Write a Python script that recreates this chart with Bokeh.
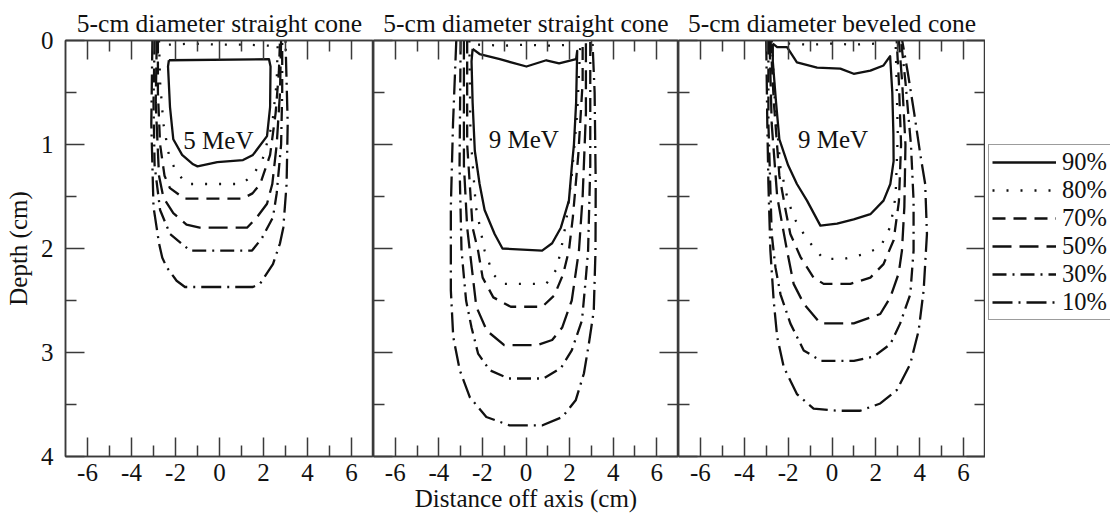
from bokeh.plotting import figure
from bokeh.models import (Range1d, FixedTicker, LinearAxis, Legend, LegendItem, Label,
                          CustomLabelingPolicy)
from bokeh.layouts import row
from bokeh.embed import file_html
from bokeh.resources import INLINE

FONT = "Liberation Serif"
INK = "#111111"
AXC = "#3a3a3a"

# ---------------- text / ticks ----------------
panel_titles = ["5-cm diameter straight cone", "5-cm diameter straight cone", "5-cm diameter beveled cone"]
beam_labels = ["5 MeV", "9 MeV", "9 MeV"]
beam_label_x = [-0.05, -0.1, 0.05]
beam_label_y = [0.96, 0.95, 0.95]
levels = ["90%", "80%", "70%", "50%", "30%", "10%"]
dashes = ["solid", "2 12", "13 8", "19 8", "14 6 2 6", "20 6 2 6"]
x_ticks = [-6, -4, -2, 0, 2, 4, 6]
x_tick_labels = ["-6", "-4", "-2", "0", "2", "4", "6"]
x_minor = [-5, -3, -1, 1, 3, 5]
y_ticks = [0, 1, 2, 3, 4]
y_tick_labels = ["0", "1", "2", "3", "4"]
y_minor = [0.5, 1.5, 2.5, 3.5]

# ---------------- panel A: 5 MeV, straight cone ----------------
A90_x = [-2.3, 2.25, 2.32, 2.3, 2.16, 1.52, 1.07, -0.1, -1.0, -1.2, -1.7, -2.1, -2.25, -2.34, -2.3]
A90_y = [0.19, 0.18, 0.25, 0.64, 0.92, 1.10, 1.15, 1.17, 1.21, 1.19, 1.10, 0.95, 0.64, 0.25, 0.19]
A80_x = [-2.75, -2.7, -2.55, -2.3, -2.0, -1.5, 1.0, 1.5, 1.95, 2.4, 2.6, 2.65]
A80_y = [0.0, 0.4, 0.8, 1.1, 1.25, 1.38, 1.38, 1.30, 1.15, 0.8, 0.4, 0.0]
A80s_x = [-2.3, -1.2, 0.0, 1.2, 2.3]
A80s_y = [0.04, 0.03, 0.04, 0.04, 0.05]
A70_x = [-2.8, -2.8, -2.7, -2.5, -2.25, -1.6, 1.05, 1.5, 1.85, 2.3, 2.55, 2.7, 2.75]
A70_y = [0.0, 0.5, 1.0, 1.3, 1.42, 1.52, 1.52, 1.47, 1.38, 1.1, 0.7, 0.3, 0.0]
A50_x = [-2.85, -2.9, -2.75, -2.55, -2.1, -1.5, -0.9, 1.25, 1.7, 2.16, 2.4, 2.6, 2.75, 2.8]
A50_y = [0.0, 0.6, 1.3, 1.51, 1.66, 1.77, 1.80, 1.80, 1.70, 1.57, 1.38, 1.0, 0.5, 0.0]
A30_x = [-2.95, -3.0, -2.95, -2.7, -2.25, -1.34, 1.48, 1.93, 2.43, 2.6, 2.8, 2.85, 2.85]
A30_y = [0.0, 0.6, 1.2, 1.63, 1.86, 2.02, 2.02, 1.90, 1.70, 1.47, 1.0, 0.5, 0.0]
A10_x = [-3.05, -3.1, -3.0, -2.75, -2.6, -2.4, -1.95, -1.57, 1.52, 1.84, 2.43, 2.75, 2.9, 3.05, 3.1, 3.0]
A10_y = [0.0, 0.8, 1.6, 1.95, 2.09, 2.18, 2.31, 2.37, 2.37, 2.34, 2.15, 1.95, 1.8, 1.38, 0.8, 0.0]

# ---------------- panel B: 9 MeV, straight cone ----------------
B90_x = [-2.45, -2.13, -1.2, 0.02, 0.93, 1.52, 2.3, 2.35, 2.3, 2.2, 2.1, 1.97, 1.6, 1.2, 0.74,
         -1.08, -1.44, -1.9, -2.13, -2.35, -2.45, -2.5, -2.45]
B90_y = [0.08, 0.13, 0.18, 0.25, 0.19, 0.22, 0.18, 0.10, 0.6, 1.0, 1.22, 1.54, 1.80, 1.95, 2.02,
         2.00, 1.86, 1.63, 1.38, 1.06, 0.6, 0.2, 0.08]
B80_x = [-2.6, -2.55, -2.3, -1.9, -1.5, -1.06, 0.93, 1.4, 1.6, 1.84, 2.1, 2.35, 2.5]
B80_y = [0.0, 0.9, 1.6, 2.02, 2.25, 2.34, 2.34, 2.2, 2.02, 1.75, 1.3, 0.7, 0.0]
B80s_x = [-2.2, -1.0, 0.0, 1.0, 2.2]
B80s_y = [0.04, 0.05, 0.04, 0.05, 0.04]
B70_x = [-2.7, -2.7, -2.45, -2.2, -1.99, -1.5, -0.7, 0.75, 1.3, 1.7, 1.97, 2.15, 2.4, 2.6, 2.6]
B70_y = [0.0, 1.0, 1.8, 2.02, 2.28, 2.47, 2.56, 2.56, 2.45, 2.25, 2.02, 1.7, 1.1, 0.4, 0.0]
B50_x = [-2.85, -2.85, -2.7, -2.58, -2.28, -1.8, -1.0, 0.5, 1.2, 1.66, 2.1, 2.43, 2.6, 2.75, 2.75]
B50_y = [0.0, 1.2, 1.8, 2.02, 2.56, 2.79, 2.93, 2.93, 2.88, 2.76, 2.5, 2.02, 1.5, 0.7, 0.0]
B30_x = [-3.0, -3.05, -2.96, -2.75, -2.5, -2.2, -1.67, -0.8, 0.8, 1.6, 2.1, 2.57, 2.74, 2.85, 2.95, 2.95]
B30_y = [0.0, 1.2, 2.02, 2.5, 2.76, 3.01, 3.17, 3.25, 3.25, 3.15, 2.98, 2.69, 2.3, 2.02, 1.2, 0.0]
B10_x = [-3.2, -3.35, -3.45, -3.45, -3.34, -3.04, -2.58, -1.82, -0.76, 0.76, 1.67, 2.28, 2.66, 2.89,
         3.11, 3.19, 3.2, 3.15, 3.05]
B10_y = [0.0, 0.8, 1.6, 2.4, 2.85, 3.17, 3.43, 3.62, 3.70, 3.70, 3.62, 3.46, 3.2, 2.91,
         2.6, 2.02, 1.38, 0.5, 0.0]

# ---------------- panel C: 9 MeV, beveled cone ----------------
C90_x = [-2.7, -2.5, -2.05, -1.6, -0.68, 0.38, 0.99, 1.75, 2.35, 2.65, 2.75, 2.8, 2.81, 2.66, 2.35,
         1.75, 0.99, 0.23, -0.53, -1.14, -1.6, -2.0, -2.4, -2.55, -2.7, -2.7]
C90_y = [0.03, 0.064, 0.064, 0.21, 0.26, 0.27, 0.32, 0.29, 0.24, 0.15, 0.5, 0.9, 1.16, 1.38, 1.54,
         1.67, 1.72, 1.76, 1.78, 1.54, 1.38, 1.2, 0.95, 0.6, 0.2, 0.03]
C80_x = [-2.75, -2.6, -2.35, -2.05, -1.75, -1.29, -0.84, -0.38, 0.53, 1.37, 2.2, 2.66, 2.9, 3.0, 2.9]
C80_y = [0.0, 0.6, 1.22, 1.5, 1.70, 1.86, 1.99, 2.10, 2.10, 2.06, 1.99, 1.79, 1.5, 0.9, 0.0]
C80s_x = [-2.0, -1.0, 0.0, 1.0, 2.0]
C80s_y = [0.03, 0.04, 0.03, 0.04, 0.03]
C70_x = [-2.8, -2.65, -2.4, -2.1, -1.9, -1.44, -0.84, -0.38, 0.84, 1.75, 2.35, 2.81, 3.05, 3.15, 3.05, 2.95]
C70_y = [0.0, 0.6, 1.3, 1.65, 1.86, 2.08, 2.28, 2.34, 2.34, 2.28, 2.15, 1.92, 1.55, 1.0, 0.4, 0.0]
C50_x = [-2.85, -2.75, -2.5, -2.2, -2.05, -1.75, -1.29, -0.53, 0.99, 2.2, 2.66, 3.04, 3.19, 3.3, 3.35, 3.2, 3.05]
C50_y = [0.0, 0.8, 1.5, 1.85, 2.02, 2.34, 2.53, 2.72, 2.72, 2.63, 2.47, 2.24, 2.02, 1.6, 1.0, 0.4, 0.0]
C30_x = [-2.9, -2.9, -2.8, -2.75, -2.58, -2.35, -1.9, -1.29, -0.5, 1.0, 1.9, 2.66, 3.11, 3.57, 3.72,
         3.72, 3.6, 3.35, 3.15]
C30_y = [0.0, 0.8, 1.5, 1.86, 2.18, 2.44, 2.72, 2.98, 3.08, 3.08, 3.04, 2.92, 2.72, 2.44, 2.02,
         1.54, 1.0, 0.4, 0.0]
C10_x = [-3.0, -2.95, -2.9, -2.81, -2.66, -2.5, -2.2, -1.6, -0.84, 0.23, 1.29, 2.2, 2.96, 3.57, 3.95,
         4.18, 4.33, 4.25, 4.03, 3.75, 3.45, 3.2]
C10_y = [0.0, 0.8, 1.38, 2.02, 2.5, 2.85, 3.14, 3.40, 3.54, 3.56, 3.56, 3.49, 3.36, 3.11, 2.79,
         2.40, 1.86, 1.38, 1.1, 0.7, 0.3, 0.0]

panel_contours = [
    [[(A90_x, A90_y)], [(A80_x, A80_y), (A80s_x, A80s_y)], [(A70_x, A70_y)],
     [(A50_x, A50_y)], [(A30_x, A30_y)], [(A10_x, A10_y)]],
    [[(B90_x, B90_y)], [(B80_x, B80_y), (B80s_x, B80s_y)], [(B70_x, B70_y)],
     [(B50_x, B50_y)], [(B30_x, B30_y)], [(B10_x, B10_y)]],
    [[(C90_x, C90_y)], [(C80_x, C80_y), (C80s_x, C80s_y)], [(C70_x, C70_y)],
     [(C50_x, C50_y)], [(C30_x, C30_y)], [(C10_x, C10_y)]],
]

LINE_W = 2.3


def style_axis(ax, ticks, minor, tick_labels, show_labels):
    ax.ticker = FixedTicker(ticks=ticks, minor_ticks=minor)
    ax.axis_line_color = AXC
    ax.axis_line_width = 1.5
    ax.major_tick_line_color = AXC
    ax.major_tick_line_width = 1.5
    ax.minor_tick_line_color = AXC
    ax.minor_tick_line_width = 1.5
    ax.major_tick_in = 19
    ax.major_tick_out = 0
    ax.minor_tick_in = 11
    ax.minor_tick_out = 0
    if show_labels:
        ax.major_label_overrides = {t: s for t, s in zip(ticks, tick_labels)}
        ax.major_label_text_font = FONT
        ax.major_label_text_font_size = "25px"
        ax.major_label_text_color = INK
    else:
        # tick marks only: no labels are drawn on this side
        ax.major_label_policy = CustomLabelingPolicy(code="return []")
        ax.major_label_text_font_size = "0px"
        ax.major_label_standoff = 0


def make_panel(i, width, left, right):
    p = figure(width=width, height=516, x_range=Range1d(-7, 7), y_range=Range1d(4, 0),
               output_backend="svg", toolbar_location=None,
               min_border_left=left, min_border_right=right,
               min_border_top=40, min_border_bottom=60,
               title=panel_titles[i])
    p.background_fill_color = "white"
    p.border_fill_color = "white"
    p.outline_line_color = AXC
    p.outline_line_width = 1.5
    p.xgrid.visible = False
    p.ygrid.visible = False
    p.title.text_font = FONT
    p.title.text_font_size = "25.5px"
    p.title.text_font_style = "normal"
    p.title.text_color = INK
    p.title.align = "center"
    p.title.standoff = 6

    # bottom axis
    xb = p.below[0]
    style_axis(xb, x_ticks, x_minor, x_tick_labels, True)
    xb.major_label_standoff = 7
    # top axis
    xt = LinearAxis()
    style_axis(xt, x_ticks, x_minor, x_tick_labels, False)
    p.add_layout(xt, "above")
    # left axis
    yl = p.left[0]
    if i == 0:
        style_axis(yl, y_ticks, y_minor, y_tick_labels, True)
        yl.major_label_standoff = 12
        yl.axis_label = "Depth (cm)"
        yl.axis_label_text_font = FONT
        yl.axis_label_text_font_size = "25px"
        yl.axis_label_text_font_style = "normal"
        yl.axis_label_text_color = INK
        yl.axis_label_standoff = 6
    else:
        style_axis(yl, y_ticks, y_minor, y_tick_labels, False)
        yr = LinearAxis()
        style_axis(yr, y_ticks, y_minor, y_tick_labels, False)
        p.add_layout(yr, "right")

    for lv, dash, segs in zip(levels, dashes, panel_contours[i]):
        p.multi_line(xs=[s[0] for s in segs], ys=[s[1] for s in segs],
                     line_color=INK, line_width=LINE_W, line_dash=dash,
                     line_join="round")

    p.add_layout(Label(x=beam_label_x[i], y=beam_label_y[i], text=beam_labels[i],
                       text_align="center", text_baseline="middle",
                       text_font=FONT, text_font_size="25px", text_color=INK))
    return p, xb


p1, xb1 = make_panel(0, 373, 65, 0)
p2, xb2 = make_panel(1, 305, 0, 0)
p3, xb3 = make_panel(2, 307, 0, 0)

xb2.axis_label = "Distance off axis (cm)"
xb2.axis_label_text_font = FONT
xb2.axis_label_text_font_size = "25px"
xb2.axis_label_text_font_style = "normal"
xb2.axis_label_text_color = INK
xb2.axis_label_standoff = 1

# ---------------- legend strip (keys only) ----------------
pl = figure(width=125, height=516, x_range=Range1d(0, 1), y_range=Range1d(0, 1),
            x_axis_type=None, y_axis_type=None,
            output_backend="svg", toolbar_location=None,
            min_border_left=0, min_border_right=0, min_border_top=40, min_border_bottom=60)
pl.outline_line_color = None
pl.background_fill_color = "white"
pl.border_fill_color = "white"
pl.xgrid.visible = False
pl.ygrid.visible = False
key_renderers = []
for lv, dash in zip(levels, dashes):
    key_renderers.append(pl.multi_line(xs=[[]], ys=[[]], line_color=INK, line_width=LINE_W,
                                       line_dash=dash))
legend = Legend(items=[LegendItem(label=lv, renderers=[r]) for lv, r in zip(levels, key_renderers)],
                location=(3, 136), orientation="vertical",
                glyph_width=64, glyph_height=28, label_height=28, label_standoff=6,
                label_text_font=FONT, label_text_font_size="24.5px", label_text_color=INK,
                padding=3, spacing=0, margin=0,
                border_line_color=AXC, border_line_width=1.5,
                background_fill_color="white", background_fill_alpha=1.0)
pl.add_layout(legend)

layout = row(p1, p2, p3, pl)
open("out.html", "w").write(file_html(layout, INLINE))
